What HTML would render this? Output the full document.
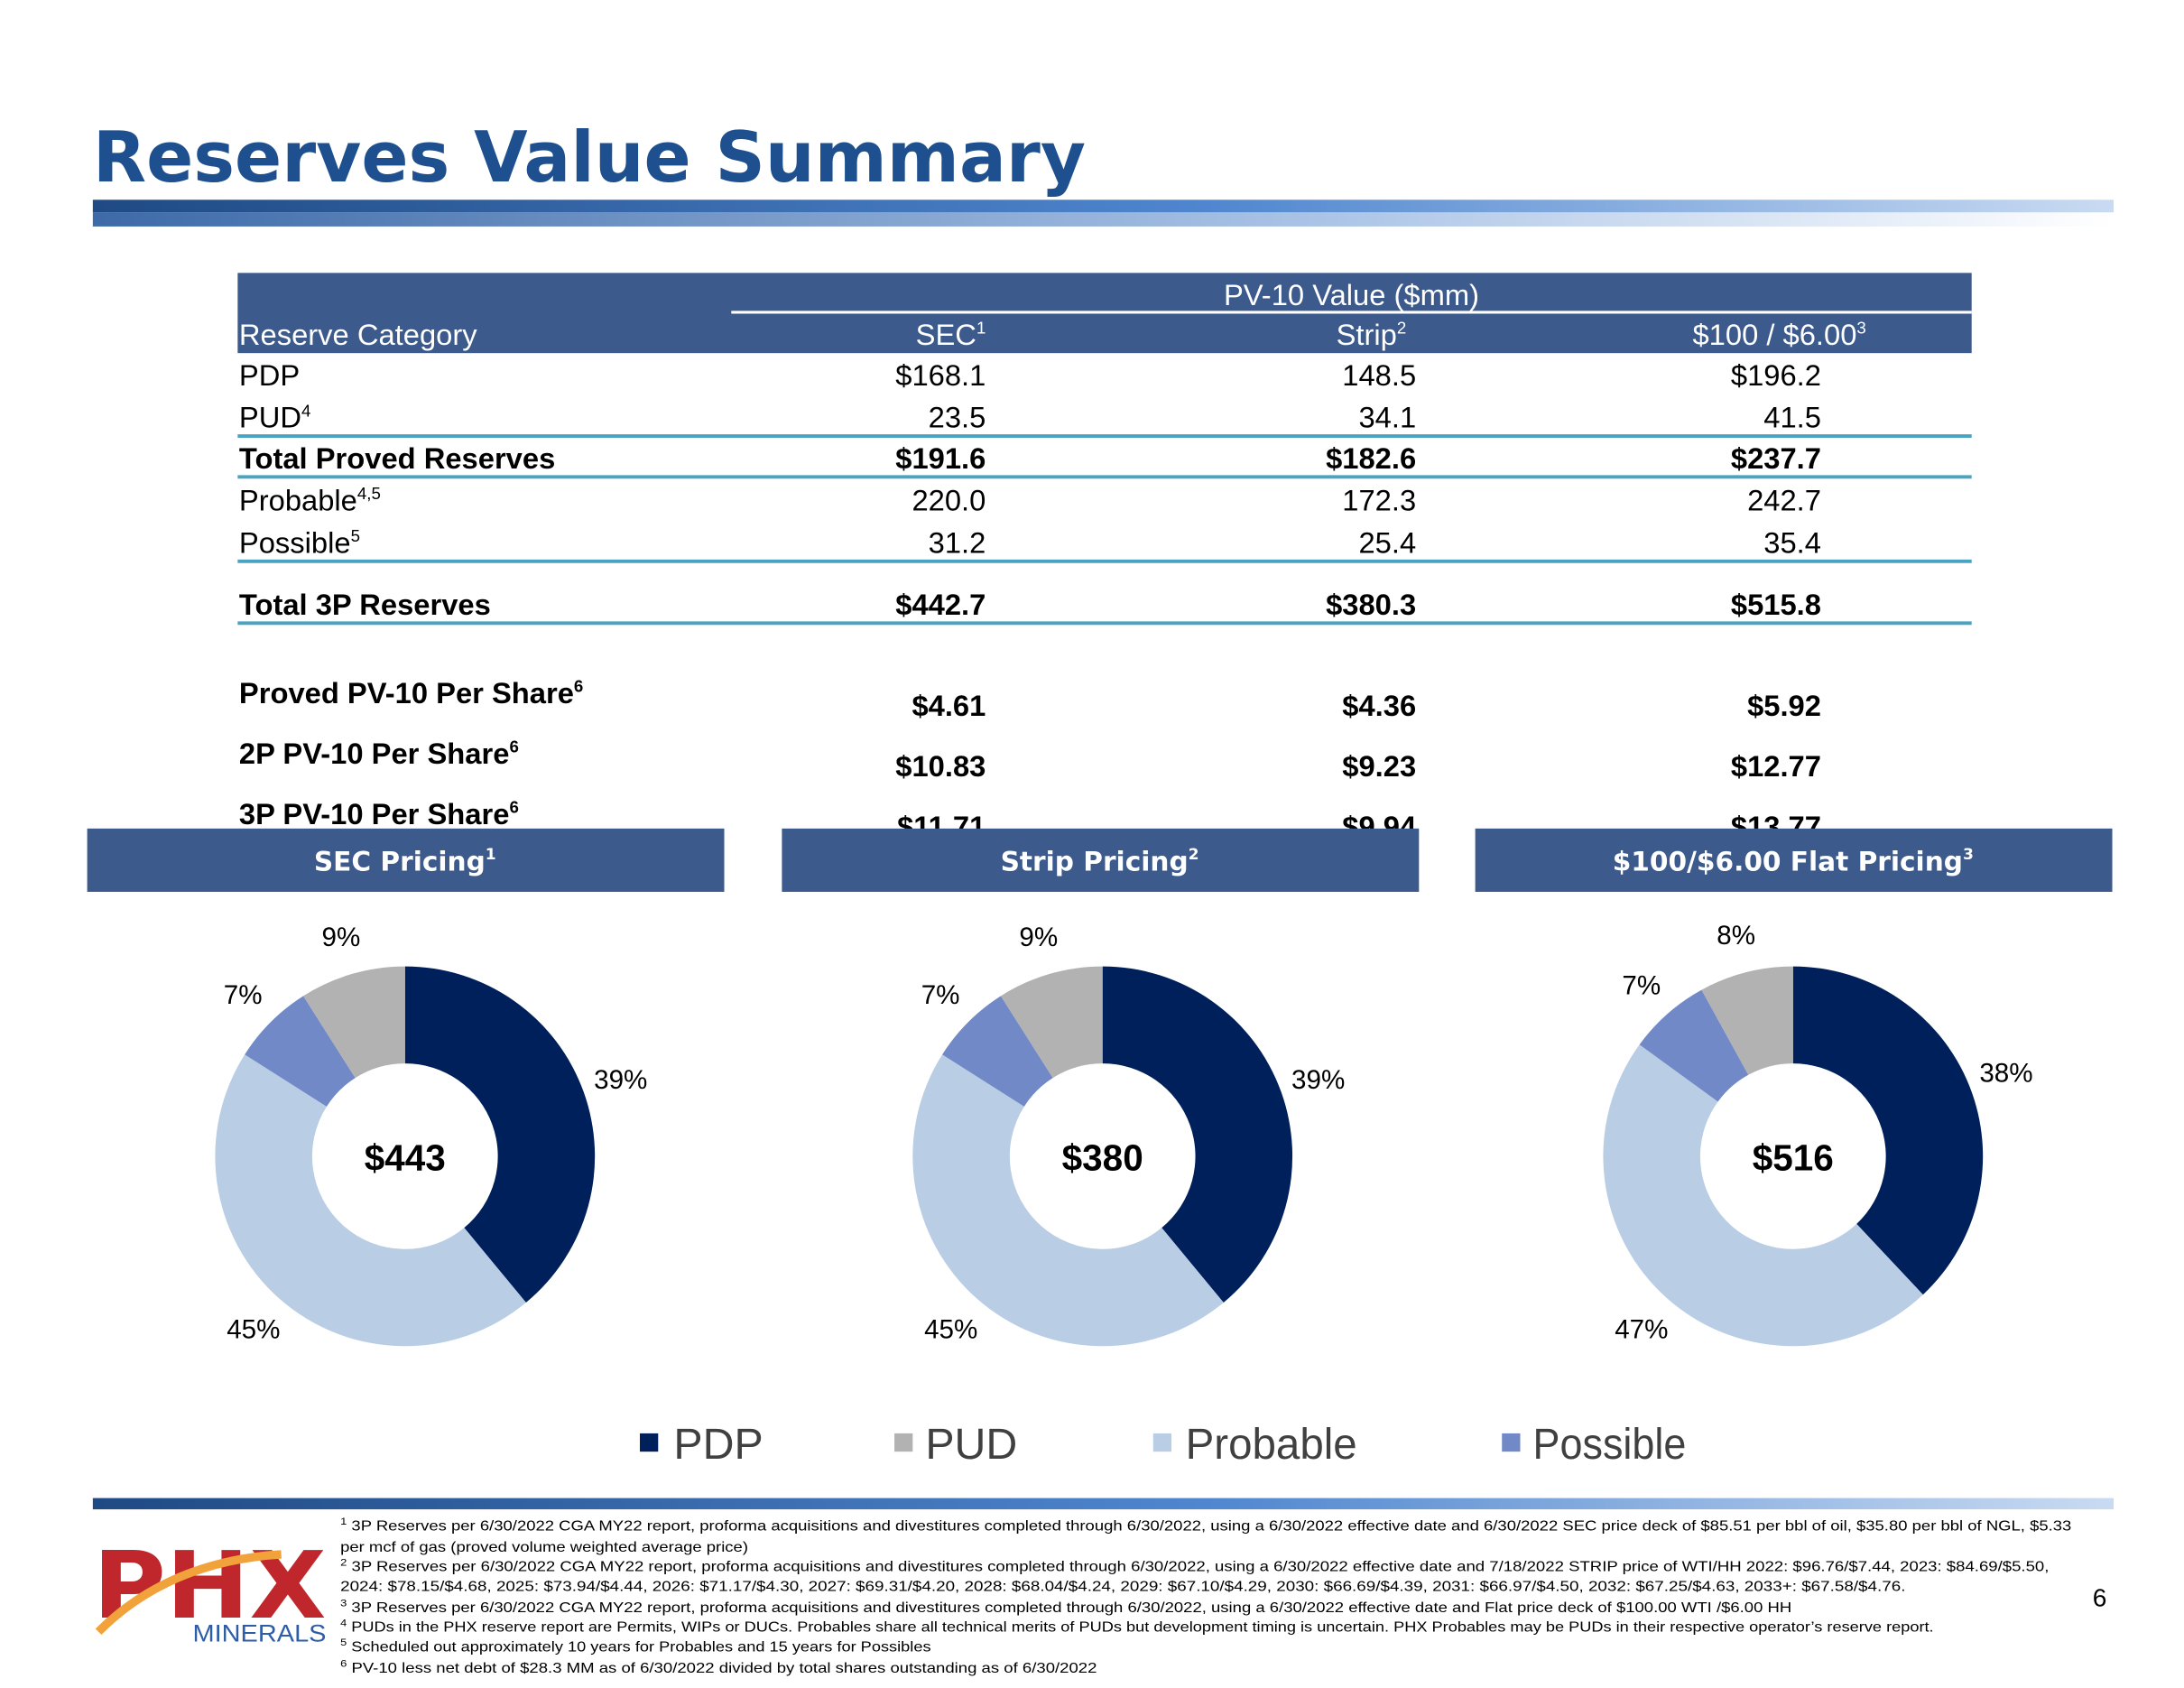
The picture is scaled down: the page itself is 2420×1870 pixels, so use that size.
<!DOCTYPE html>
<html><head><meta charset="utf-8"><style>html,body{margin:0;padding:0;background:#fff}svg{display:block}</style></head>
<body>
<svg id="pg" xmlns="http://www.w3.org/2000/svg" width="2420" height="1870" viewBox="0 0 1553 1200" font-family="Liberation Sans, Arial, sans-serif">
<defs>
<linearGradient id="g1" x1="0" x2="1"><stop offset="0" stop-color="#1f4a84"/><stop offset="0.55" stop-color="#4f86cf"/><stop offset="1" stop-color="#c9dbf2"/></linearGradient>
<linearGradient id="g2" x1="0" x2="1"><stop offset="0" stop-color="#3d6aa8"/><stop offset="0.6" stop-color="#a9c3e6"/><stop offset="1" stop-color="#ffffff"/></linearGradient>
</defs>
<text x="66" y="129" font-family="DejaVu Sans, Verdana, sans-serif" font-weight="bold" font-size="50" fill="#1e4f8e" textLength="706" lengthAdjust="spacingAndGlyphs">Reserves Value Summary</text>
<rect x="66" y="142" width="1437" height="9" fill="url(#g1)"/>
<rect x="66" y="151" width="1437" height="10" fill="url(#g2)"/>

<g font-size="21" fill="#000">
<rect x="169" y="194" width="1233" height="57" fill="#3c5a8c"/>
<line x1="520" x2="1402" y1="222" y2="222" stroke="#fff" stroke-width="2"/>
<g fill="#fff">
<text x="961" y="217" text-anchor="middle">PV-10 Value ($mm)</text>
<text x="170" y="245">Reserve Category</text>
<text x="701" y="245" text-anchor="end">SEC<tspan font-size="12" dy="-8">1</tspan></text>
<text x="1000" y="245" text-anchor="end">Strip<tspan font-size="12" dy="-8">2</tspan></text>
<text x="1327" y="245" text-anchor="end">$100 / $6.00<tspan font-size="12" dy="-8">3</tspan></text>
</g>
<g stroke="#4aa3c0" stroke-width="2.5">
<line x1="169" x2="1402" y1="310" y2="310"/><line x1="169" x2="1402" y1="339" y2="339"/>
<line x1="169" x2="1402" y1="399" y2="399"/><line x1="169" x2="1402" y1="443" y2="443"/>
</g>
<text x="170" y="274">PDP</text><text x="701" y="274" text-anchor="end">$168.1</text><text x="1007" y="274" text-anchor="end">148.5</text><text x="1295" y="274" text-anchor="end">$196.2</text>
<text x="170" y="304">PUD<tspan font-size="12" dy="-8">4</tspan></text><text x="701" y="304" text-anchor="end">23.5</text><text x="1007" y="304" text-anchor="end">34.1</text><text x="1295" y="304" text-anchor="end">41.5</text>
<g font-weight="bold"><text x="170" y="333">Total Proved Reserves</text><text x="701" y="333" text-anchor="end">$191.6</text><text x="1007" y="333" text-anchor="end">$182.6</text><text x="1295" y="333" text-anchor="end">$237.7</text></g>
<text x="170" y="363">Probable<tspan font-size="12" dy="-8">4,5</tspan></text><text x="701" y="363" text-anchor="end">220.0</text><text x="1007" y="363" text-anchor="end">172.3</text><text x="1295" y="363" text-anchor="end">242.7</text>
<text x="170" y="393">Possible<tspan font-size="12" dy="-8">5</tspan></text><text x="701" y="393" text-anchor="end">31.2</text><text x="1007" y="393" text-anchor="end">25.4</text><text x="1295" y="393" text-anchor="end">35.4</text>
<g font-weight="bold"><text x="170" y="437">Total 3P Reserves</text><text x="701" y="437" text-anchor="end">$442.7</text><text x="1007" y="437" text-anchor="end">$380.3</text><text x="1295" y="437" text-anchor="end">$515.8</text></g>
<g font-weight="bold">
<text x="170" y="500">Proved PV-10 Per Share<tspan font-size="12" dy="-8">6</tspan></text>
<text x="170" y="543">2P PV-10 Per Share<tspan font-size="12" dy="-8">6</tspan></text>
<text x="170" y="586">3P PV-10 Per Share<tspan font-size="12" dy="-8">6</tspan></text>
<text x="701" y="509" text-anchor="end">$4.61</text><text x="1007" y="509" text-anchor="end">$4.36</text><text x="1295" y="509" text-anchor="end">$5.92</text>
<text x="701" y="552" text-anchor="end">$10.83</text><text x="1007" y="552" text-anchor="end">$9.23</text><text x="1295" y="552" text-anchor="end">$12.77</text>
<text x="701" y="595" text-anchor="end">$11.71</text><text x="1007" y="595" text-anchor="end">$9.94</text><text x="1295" y="595" text-anchor="end">$13.77</text>
</g>
</g>

<g font-family="DejaVu Sans, Verdana, sans-serif" font-weight="bold" font-size="19" fill="#fff">
<rect x="62" y="589" width="453" height="45" fill="#3c5a8c"/>
<rect x="556" y="589" width="453" height="45" fill="#3c5a8c"/>
<rect x="1049" y="589" width="453" height="45" fill="#3c5a8c"/>
<text x="288" y="619" text-anchor="middle">SEC Pricing<tspan font-size="11" dy="-8">1</tspan></text>
<text x="782" y="619" text-anchor="middle">Strip Pricing<tspan font-size="11" dy="-8">2</tspan></text>
<text x="1275" y="619" text-anchor="middle">$100/$6.00 Flat Pricing<tspan font-size="11" dy="-8">3</tspan></text>
</g>

<g id="donuts"></g>

<g font-size="31" fill="#404040">
<rect x="455" y="1019" width="13" height="13" fill="#00205b"/><text x="479" y="1037">PDP</text>
<rect x="636" y="1019" width="13" height="13" fill="#b2b2b2"/><text x="658" y="1037">PUD</text>
<rect x="820" y="1019" width="13" height="13" fill="#b9cde5"/><text x="843" y="1037" textLength="122" lengthAdjust="spacingAndGlyphs">Probable</text>
<rect x="1068" y="1019" width="13" height="13" fill="#7189c6"/><text x="1090" y="1037" textLength="109" lengthAdjust="spacingAndGlyphs">Possible</text>
</g>

<rect x="66" y="1065" width="1437" height="8" fill="url(#g1)"/>
<g font-size="10" fill="#000">
<text x="242" y="1088" textLength="1231" lengthAdjust="spacingAndGlyphs"><tspan font-size="7" dy="-4">1</tspan><tspan dy="4"> 3P Reserves per 6/30/2022 CGA MY22 report, proforma acquisitions and divestitures completed through 6/30/2022, using a 6/30/2022 effective date and 6/30/2022 SEC price deck of $85.51 per bbl of oil, $35.80 per bbl of NGL, $5.33</tspan></text>
<text x="242" y="1103" textLength="290" lengthAdjust="spacingAndGlyphs">per mcf of gas (proved volume weighted average price)</text>
<text x="242" y="1117" textLength="1215" lengthAdjust="spacingAndGlyphs"><tspan font-size="7" dy="-4">2</tspan><tspan dy="4"> 3P Reserves per 6/30/2022 CGA MY22 report, proforma acquisitions and divestitures completed through 6/30/2022, using a 6/30/2022 effective date and 7/18/2022 STRIP price of WTI/HH 2022: $96.76/$7.44, 2023: $84.69/$5.50,</tspan></text>
<text x="242" y="1131" textLength="1113" lengthAdjust="spacingAndGlyphs">2024: $78.15/$4.68, 2025: $73.94/$4.44, 2026: $71.17/$4.30, 2027: $69.31/$4.20, 2028: $68.04/$4.24, 2029: $67.10/$4.29, 2030: $66.69/$4.39, 2031: $66.97/$4.50, 2032: $67.25/$4.63, 2033+: $67.58/$4.76.</text>
<text x="242" y="1146" textLength="1032" lengthAdjust="spacingAndGlyphs"><tspan font-size="7" dy="-4">3</tspan><tspan dy="4"> 3P Reserves per 6/30/2022 CGA MY22 report, proforma acquisitions and divestitures completed through 6/30/2022, using a 6/30/2022 effective date and Flat price deck of $100.00 WTI /$6.00 HH</tspan></text>
<text x="242" y="1160" textLength="1133" lengthAdjust="spacingAndGlyphs"><tspan font-size="7" dy="-4">4</tspan><tspan dy="4"> PUDs in the PHX reserve report are Permits, WIPs or DUCs. Probables share all technical merits of PUDs but development timing is uncertain. PHX Probables may be PUDs in their respective operator’s reserve report.</tspan></text>
<text x="242" y="1174" textLength="420" lengthAdjust="spacingAndGlyphs"><tspan font-size="7" dy="-4">5</tspan><tspan dy="4"> Scheduled out approximately 10 years for Probables and 15 years for Possibles</tspan></text>
<text x="242" y="1189" textLength="538" lengthAdjust="spacingAndGlyphs"><tspan font-size="7" dy="-4">6</tspan><tspan dy="4"> PV-10 less net debt of $28.3 MM as of 6/30/2022 divided by total shares outstanding as of 6/30/2022</tspan></text>
</g>
<g>
<text x="66" y="1150" font-family="DejaVu Sans, sans-serif" font-weight="bold" font-size="66" fill="#c0272d" textLength="166" lengthAdjust="spacingAndGlyphs">PHX</text>
<path d="M70 1160 Q120 1110 200 1105" stroke="#f2a23a" stroke-width="6" fill="none"/>
<text x="137" y="1167" font-size="17" fill="#2e5da8" textLength="95" lengthAdjust="spacingAndGlyphs">MINERALS</text>
</g>
<text x="1488" y="1142" font-size="18" fill="#000">6</text>
</svg>
<script>
const categories = ["PDP", "Probable", "Possible", "PUD"];
const colors = ["#00205b", "#b9cde5", "#7189c6", "#b2b2b2"];
const secValues = [39, 45, 7, 9];
const stripValues = [39, 45, 7, 9];
const flatValues = [38, 47, 7, 8];
const centerLabels = ["$443", "$380", "$516"];
const NS = "http://www.w3.org/2000/svg";
const g = document.getElementById("donuts");
const charts = [[secValues, 288], [stripValues, 784], [flatValues, 1275]];
const cy = 822, R = 135, r = 66, LR = 163;
function pt(cx, rad, a) { return [cx + rad * Math.sin(a), cy - rad * Math.cos(a)]; }
charts.forEach(function (c, ci) {
  const vals = c[0], cx = c[1];
  const total = vals.reduce(function (s, v) { return s + v; }, 0);
  let acc = 0;
  vals.forEach(function (v, i) {
    const a0 = acc / total * 2 * Math.PI; acc += v;
    const a1 = acc / total * 2 * Math.PI;
    const large = (a1 - a0) > Math.PI ? 1 : 0;
    const p0 = pt(cx, R, a0), p1 = pt(cx, R, a1), q1 = pt(cx, r, a1), q0 = pt(cx, r, a0);
    const p = document.createElementNS(NS, "path");
    p.setAttribute("d", "M" + p0 + "A" + R + "," + R + " 0 " + large + " 1 " + p1 + "L" + q1 + "A" + r + "," + r + " 0 " + large + " 0 " + q0 + "Z");
    p.setAttribute("fill", colors[i]);
    
    
    g.appendChild(p);
    const m = pt(cx, LR, (a0 + a1) / 2);
    const t = document.createElementNS(NS, "text");
    t.setAttribute("x", m[0]); t.setAttribute("y", m[1] + 7);
    t.setAttribute("text-anchor", "middle"); t.setAttribute("font-size", "19");
    t.textContent = v + "%";
    
    
    g.appendChild(t);
  });
  const ct = document.createElementNS(NS, "text");
  ct.setAttribute("x", cx); ct.setAttribute("y", cy + 10);
  ct.setAttribute("text-anchor", "middle"); ct.setAttribute("font-size", "26"); ct.setAttribute("font-weight", "bold");
  ct.textContent = centerLabels[ci];
  
  
  g.appendChild(ct);
});
</script>
</body></html>
